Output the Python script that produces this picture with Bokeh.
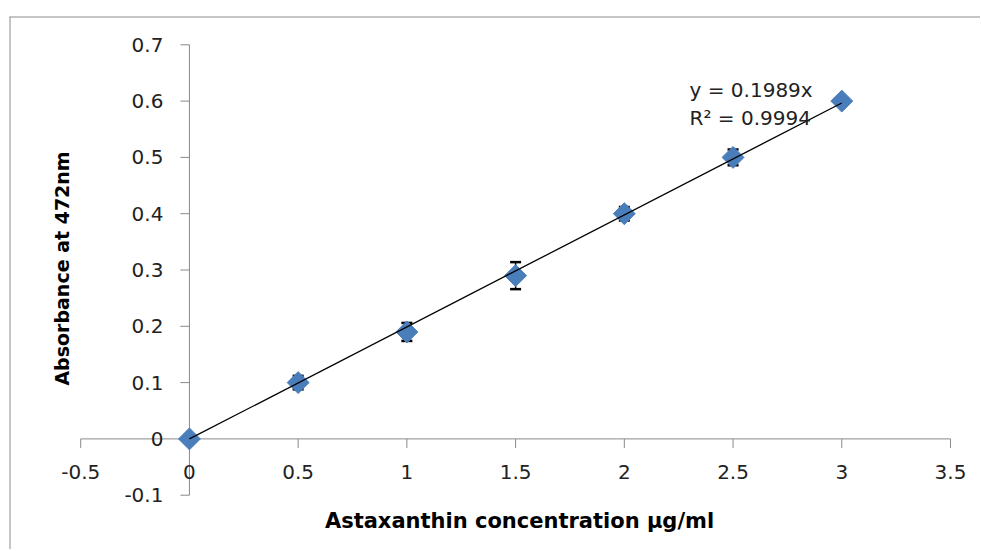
import math
from bokeh.plotting import figure
from bokeh.models import ColumnDataSource, Whisker, TeeHead, Label, Span, Range1d
from bokeh.core.properties import value
from bokeh.embed import file_html
from bokeh.resources import INLINE

# ---- data ----
concentration = [0.0, 0.5, 1.0, 1.5, 2.0, 2.5, 3.0]
absorbance = [0.0, 0.10, 0.19, 0.29, 0.40, 0.50, 0.60]
abs_error = [0.0, 0.012, 0.016, 0.024, 0.012, 0.014, 0.005]
slope = 0.1989
r_squared = 0.9994
x_ticks = [-0.5, 0.0, 0.5, 1.0, 1.5, 2.0, 2.5, 3.0, 3.5]
x_tick_labels = ["-0.5", "0", "0.5", "1", "1.5", "2", "2.5", "3", "3.5"]
y_ticks = [-0.1, 0.0, 0.1, 0.2, 0.3, 0.4, 0.5, 0.6, 0.7]
y_tick_labels = ["-0.1", "0", "0.1", "0.2", "0.3", "0.4", "0.5", "0.6", "0.7"]
x_title = "Astaxanthin concentration µg/ml"
y_title = "Absorbance at 472nm"

FONT = "DejaVu Sans"
AXIS_COLOR = "#898989"
MARKER_COLOR = "#4A7EBB"

# ---- layout ranges (frame covers nearly the whole canvas) ----
x_start, x_end = -0.82743, 3.63797
y_start, y_end = -0.19644, 0.75027

p = figure(width=980, height=549, title=None,
           x_range=Range1d(x_start, x_end), y_range=Range1d(y_start, y_end),
           x_axis_location=None, y_axis_location=None,
           output_backend="svg", toolbar_location=None,
           min_border_left=9, min_border_top=16, min_border_right=0, min_border_bottom=0)
p.outline_line_color = None
p.background_fill_color = "white"
p.border_fill_color = "white"
p.grid.visible = False

# outer chart border (top and left visible)
p.add_layout(Span(location=x_start, dimension="height", line_color="#8C8C8C", line_width=2))
p.add_layout(Span(location=y_end, dimension="width", line_color="#8C8C8C", line_width=2))

# axis lines crossing at the origin
p.segment(x0=[x_ticks[0]], y0=[0.0], x1=[x_ticks[-1]], y1=[0.0], line_color=AXIS_COLOR, line_width=1)
p.segment(x0=[0.0], y0=[y_ticks[0]], x1=[0.0], y1=[y_ticks[-1]], line_color=AXIS_COLOR, line_width=1)

# tick marks
p.ray(x=[0.0] * len(y_ticks), y=y_ticks, length=9, length_units="screen", angle=math.pi,
      line_color=AXIS_COLOR, line_width=1)
p.ray(x=x_ticks, y=[0.0] * len(x_ticks), length=9, length_units="screen", angle=-math.pi / 2,
      line_color=AXIS_COLOR, line_width=1)

# tick labels
p.text(x=[0.0] * len(y_ticks), y=y_ticks, text=y_tick_labels, x_offset=-26,
       text_align="right", text_baseline="middle", text_font=value(FONT),
       text_font_size="20px", text_color="#222222")
p.text(x=x_ticks, y=[0.0] * len(x_ticks), text=x_tick_labels, y_offset=33,
       text_align="center", text_baseline="middle", text_font=value(FONT),
       text_font_size="20px", text_color="#222222")

# error bars
src = ColumnDataSource(dict(
    x=concentration, y=absorbance,
    upper=[a + e for a, e in zip(absorbance, abs_error)],
    lower=[a - e for a, e in zip(absorbance, abs_error)],
))
p.add_layout(Whisker(base="x", upper="upper", lower="lower", source=src,
                     line_color="black", line_width=1.5,
                     upper_head=TeeHead(size=11, line_color="black", line_width=2.5),
                     lower_head=TeeHead(size=11, line_color="black", line_width=2.5)))

# data markers
p.scatter(x="x", y="y", source=src, marker="square", angle=math.pi / 4, size=15.5,
          fill_color=MARKER_COLOR, line_color=MARKER_COLOR, line_width=1)

# linear trendline through origin
trend_x = [concentration[0], concentration[-1]]
p.line(x=trend_x, y=[slope * v for v in trend_x], line_color="black", line_width=1.3)

# trendline equation
p.add_layout(Label(x=2.30, y=0.6206, text=f"y = {slope}x", text_font=FONT,
                   text_font_size="20px", text_align="left", text_baseline="middle",
                   text_color="#222222"))
p.add_layout(Label(x=2.30, y=0.5693, text=f"R² = {r_squared}", text_font=FONT,
                   text_font_size="20px", text_align="left", text_baseline="middle",
                   text_color="#222222"))

# axis titles
p.add_layout(Label(x=1.518, y=-0.1, y_offset=-26, text=x_title, text_font=FONT,
                   text_font_size="21px", text_font_style="bold", text_align="center",
                   text_baseline="middle", text_color="black"))
p.add_layout(Label(x=-0.588, y=0.3027, text=y_title, text_font=FONT, angle=math.pi / 2,
                   text_font_size="19px", text_font_style="bold", text_align="center",
                   text_baseline="middle", text_color="black"))

open("out.html", "w").write(file_html(p, INLINE))
